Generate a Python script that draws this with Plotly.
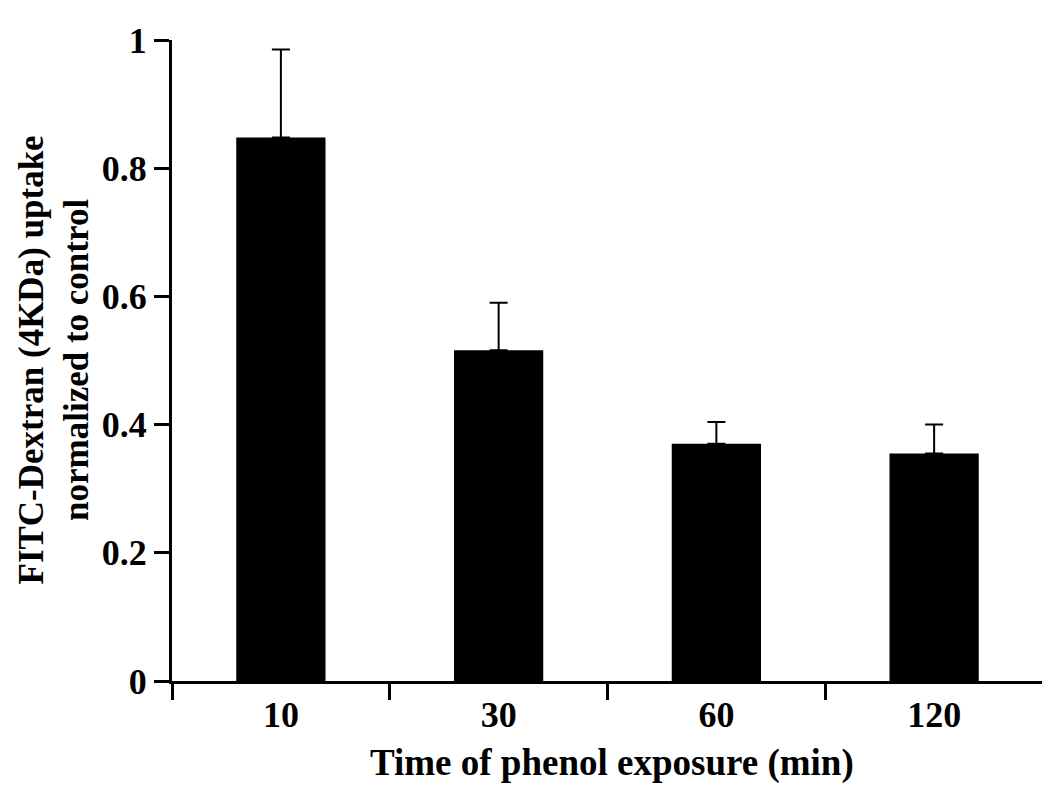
import plotly.graph_objects as go

categories = ["10", "30", "60", "120"]
uptake = [0.848, 0.516, 0.370, 0.355]
sem = [0.137, 0.074, 0.034, 0.045]
y_ticks = [0, 0.2, 0.4, 0.6, 0.8, 1]
y_tick_labels = ["0", "0.2", "0.4", "0.6", "0.8", "1"]

FONT = "Liberation Serif"

fig = go.Figure()
fig.add_trace(go.Bar(
    x=categories, y=uptake, width=0.41,
    marker=dict(color="black", line=dict(width=0)),
    error_y=dict(type="data", array=sem, arrayminus=[0] * len(sem),
                 symmetric=False, color="black", thickness=2, width=9),
))

fig.update_layout(
    width=1050, height=790,
    margin=dict(l=164, r=15, t=32, b=117),
    paper_bgcolor="white", plot_bgcolor="white",
    showlegend=False,
    font=dict(family=FONT, color="black"),
    xaxis=dict(
        type="category", range=[-0.5, 3.5], tickson="boundaries",
        showline=True, linecolor="black", linewidth=3,
        ticks="outside", ticklen=16, tickwidth=3, tickcolor="black",
        tickfont=dict(family=FONT, size=36, color="black", weight="bold"),
        showgrid=False, zeroline=False,
    ),
    yaxis=dict(
        range=[0, 1], tickvals=y_ticks, ticktext=y_tick_labels,
        showline=True, linecolor="black", linewidth=3,
        ticks="outside", ticklen=15, tickwidth=3, tickcolor="black",
        tickfont=dict(family=FONT, size=36, color="black", weight="bold"),
        showgrid=False, zeroline=False,
    ),
    annotations=[
        dict(text="<b>FITC-Dextran (4KDa) uptake<br>normalized to control</b>",
             x=0, xref="paper", y=0.5, yref="paper", xanchor="center", yanchor="middle",
             xshift=-118, yshift=0, textangle=-90, showarrow=False,
             font=dict(family=FONT, size=35, color="black")),
        dict(text="<b>Time of phenol exposure (min)</b>",
             x=0.5, xref="paper", y=0, yref="paper", xanchor="center", yanchor="middle",
             xshift=4, yshift=-82, showarrow=False,
             font=dict(family=FONT, size=37, color="black")),
    ],
)

fig.write_html("out.html")
